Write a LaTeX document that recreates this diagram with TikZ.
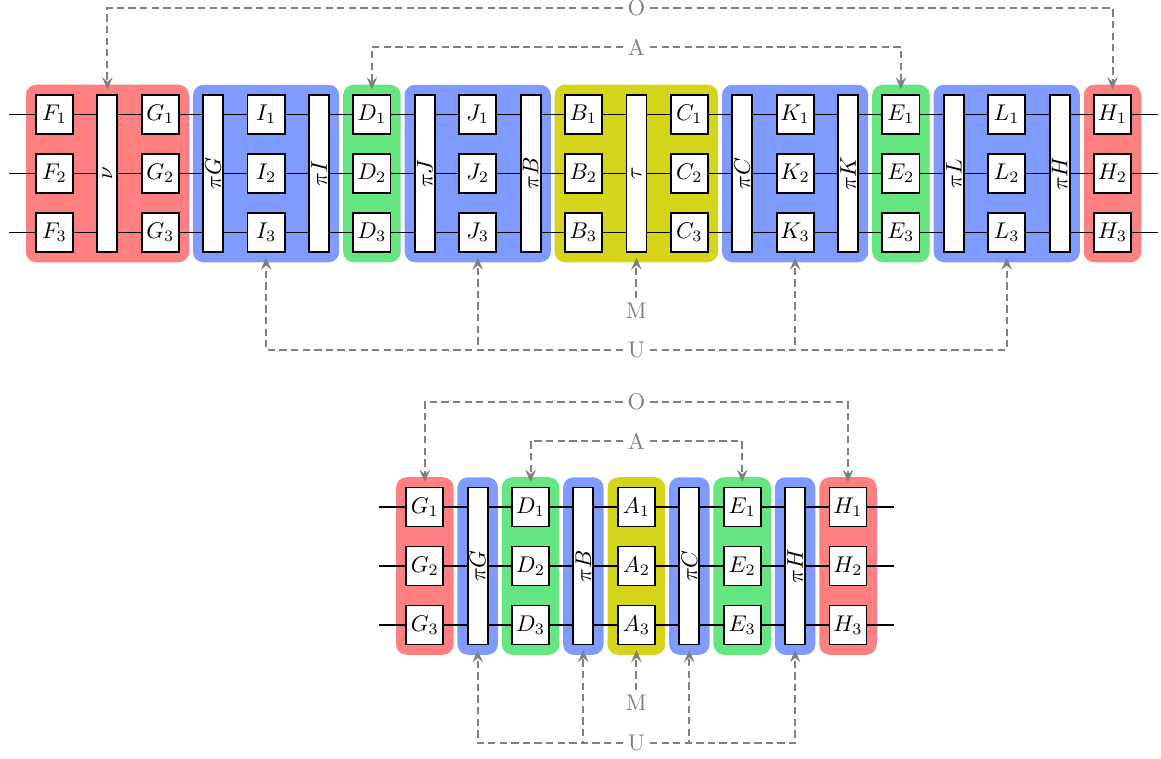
\documentclass[tikz,border=0pt]{standalone}
\usepackage{graphicx}
\usetikzlibrary{arrows.meta,fit,backgrounds}
\definecolor{redbg}{RGB}{255,128,128}
\definecolor{bluebg}{RGB}{128,155,255}
\definecolor{greenbg}{RGB}{102,230,128}
\definecolor{yellowbg}{RGB}{212,212,26}
\tikzset{
  wire/.style={line width=0.65pt, black},
  qbox/.style={draw, line width=0.8pt, fill=white, minimum width=16.3pt, minimum height=17.2pt, inner sep=0pt},
  perm/.style={draw, line width=0.8pt, fill=white, minimum width=8.8pt, minimum height=69.1pt, inner sep=0pt},
  blk/.style={rounded corners=4.6pt, inner sep=4.1pt, draw=none},
  ctrl/.style={gray, line width=0.9pt, dash pattern=on 3.2pt off 1.9pt,
    -{Stealth[length=5.4pt,width=4.6pt,inset=2pt]}, shorten >=2pt},
  ctrllab/.style={gray, fill=white, inner sep=2pt},
}
\begin{document}
\begin{tikzpicture}[x=0.44pt,y=-0.44pt]
\useasboundingbox (0,0) rectangle (1161,758);
% ---------------- top diagram ----------------
\foreach \r/\y in {1/114.5,2/173.5,3/232.5}{
  \coordinate (tl\r) at (9,\y);
  \coordinate (tr\r) at (1158,\y);
  \draw[wire] (tl\r) -- (tr\r);
}
\foreach \n/\x in {F/54.5, G/160.3, I/266.1, D/371.9, J/477.7, B/583.3, C/689.3, K/795.1, E/900.9, L/1006.7, H/1112.5}{
  \foreach \r/\y in {1/114.5,2/173.5,3/232.5}{
    \node[qbox] (\n\r) at (\x,\y) {$\n_\r$};
  }
}
\node[perm] (nu)  at (107.4,173.5) {\rotatebox{90}{$\nu$}};
\node[perm] (pG)  at (213.2,173.5) {\rotatebox{90}{$\pi G$}};
\node[perm] (pI)  at (319.0,173.5) {\rotatebox{90}{$\pi I$}};
\node[perm] (pJ)  at (424.8,173.5) {\rotatebox{90}{$\pi J$}};
\node[perm] (pB)  at (530.6,173.5) {\rotatebox{90}{$\pi B$}};
\node[perm] (tau) at (636.4,173.5) {\rotatebox{90}{$\tau$}};
\node[perm] (pC)  at (742.2,173.5) {\rotatebox{90}{$\pi C$}};
\node[perm] (pK)  at (848.0,173.5) {\rotatebox{90}{$\pi K$}};
\node[perm] (pL)  at (953.8,173.5) {\rotatebox{90}{$\pi L$}};
\node[perm] (pH)  at (1059.6,173.5) {\rotatebox{90}{$\pi H$}};
\begin{scope}[on background layer]
  \node[blk, fill=redbg,    fit=(F1)(G3)] (blk1) {};
  \node[blk, fill=bluebg,   fit=(pG)(pI)] (blk2) {};
  \node[blk, fill=greenbg,  fit=(D1)(D3)] (blk3) {};
  \node[blk, fill=bluebg,   fit=(pJ)(pB)] (blk4) {};
  \node[blk, fill=yellowbg, fit=(B1)(C3)] (blk5) {};
  \node[blk, fill=bluebg,   fit=(pC)(pK)] (blk6) {};
  \node[blk, fill=greenbg,  fit=(E1)(E3)] (blk7) {};
  \node[blk, fill=bluebg,   fit=(pL)(pH)] (blk8) {};
  \node[blk, fill=redbg,    fit=(H1)(H3)] (blk9) {};
\end{scope}
\node[ctrllab] (O) at (636.4,8) {O};
\draw[ctrl] (O) -| (nu);
\draw[ctrl] (O) -| (H1);
\node[ctrllab] (A) at (636.4,47) {A};
\draw[ctrl] (A) -| (D1);
\draw[ctrl] (A) -| (E1);
\node[ctrllab] (M) at (636.4,311) {M};
\draw[ctrl] (M) -- (tau);
\node[ctrllab] (U) at (636.4,350) {U};
\draw[ctrl] (U) -| (I3);
\draw[ctrl] (U) -| (J3);
\draw[ctrl] (U) -| (K3);
\draw[ctrl] (U) -| (L3);
% ---------------- bottom diagram ----------------
\foreach \r/\y in {1/507,2/566,3/625}{
  \coordinate (bl\r) at (379,\y);
  \coordinate (br\r) at (893.5,\y);
  \draw[wire] (bl\r) -- (br\r);
}
\foreach \n/\x in {G/424.8, D/530.6, A/636.4, E/742.2, H/848.0}{
  \foreach \r/\y in {1/507,2/566,3/625}{
    \node[qbox] (b\n\r) at (\x,\y) {$\n_\r$};
  }
}
\node[perm] (bpG) at (477.7,566) {\rotatebox{90}{$\pi G$}};
\node[perm] (bpB) at (583.3,566) {\rotatebox{90}{$\pi B$}};
\node[perm] (bpC) at (689.3,566) {\rotatebox{90}{$\pi C$}};
\node[perm] (bpH) at (795.1,566) {\rotatebox{90}{$\pi H$}};
\begin{scope}[on background layer]
  \node[blk, fill=redbg,    fit=(bG1)(bG3)] (bblk1) {};
  \node[blk, fill=bluebg,   fit=(bpG)] (bblk2) {};
  \node[blk, fill=greenbg,  fit=(bD1)(bD3)] (bblk3) {};
  \node[blk, fill=bluebg,   fit=(bpB)] (bblk4) {};
  \node[blk, fill=yellowbg, fit=(bA1)(bA3)] (bblk5) {};
  \node[blk, fill=bluebg,   fit=(bpC)] (bblk6) {};
  \node[blk, fill=greenbg,  fit=(bE1)(bE3)] (bblk7) {};
  \node[blk, fill=bluebg,   fit=(bpH)] (bblk8) {};
  \node[blk, fill=redbg,    fit=(bH1)(bH3)] (bblk9) {};
\end{scope}
\node[ctrllab] (O2) at (636.4,402) {O};
\draw[ctrl] (O2) -| (bG1);
\draw[ctrl] (O2) -| (bH1);
\node[ctrllab] (A2) at (636.4,441) {A};
\draw[ctrl] (A2) -| (bD1);
\draw[ctrl] (A2) -| (bE1);
\node[ctrllab] (M2) at (636.4,703) {M};
\draw[ctrl] (M2) -- (bA3);
\node[ctrllab] (U2) at (636.4,743) {U};
\draw[ctrl] (U2) -| (bpG);
\draw[ctrl] (U2) -| (bpB);
\draw[ctrl] (U2) -| (bpC);
\draw[ctrl] (U2) -| (bpH);
\end{tikzpicture}
\end{document}
